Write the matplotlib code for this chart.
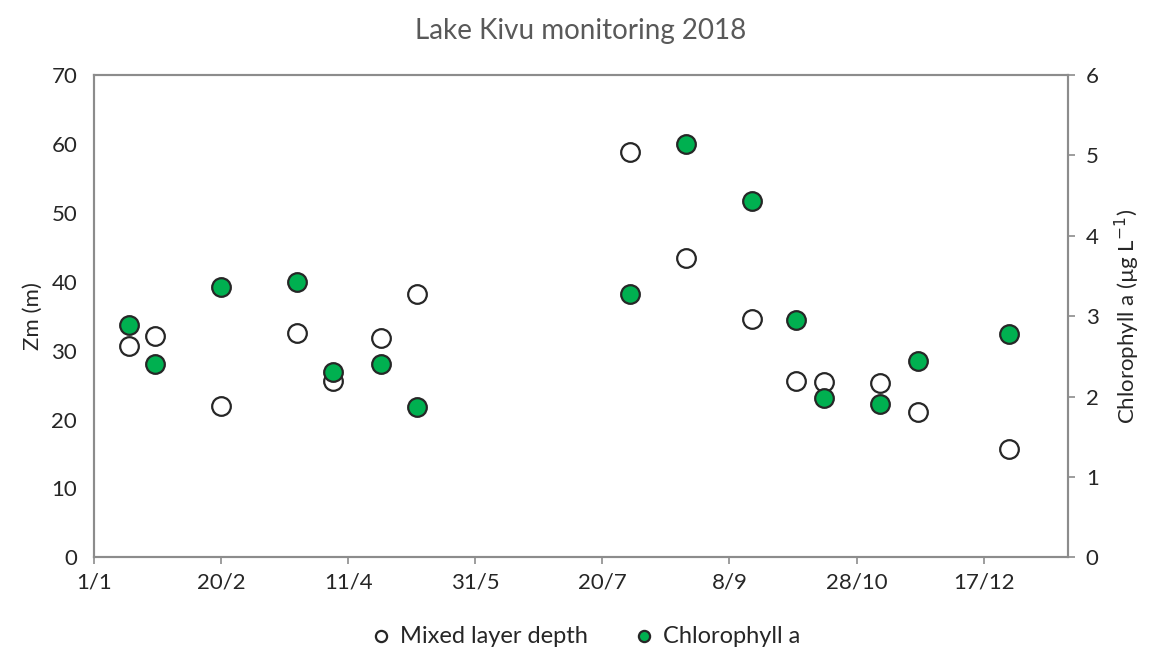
import matplotlib.pyplot as plt

# Fechas como dia del año (0 = 1/1/2018)
dias_zm = [14, 24, 50, 80, 94, 113, 127, 211, 233, 259, 276, 287, 309, 324, 360]
zm = [30.7, 32.1, 21.9, 32.5, 25.6, 31.9, 38.2, 58.8, 43.4, 34.6, 25.6, 25.4, 25.3, 21.1, 15.7]

dias_chl = [14, 24, 50, 80, 94, 113, 127, 211, 233, 259, 276, 287, 309, 324, 360]
chl = [2.89, 2.40, 3.36, 3.42, 2.30, 2.41, 1.87, 3.28, 5.14, 4.43, 2.95, 1.98, 1.91, 2.44, 2.78]

tick_dias = [0, 50, 100, 150, 200, 250, 300, 350]
tick_labels = ['1/1', '20/2', '11/4', '31/5', '20/7', '8/9', '28/10', '17/12']

gris = '#595959'
verde = '#00B050'
plt.rcParams['font.family'] = ['Lato', 'DejaVu Sans']

fig, ax = plt.subplots(figsize=(11.58, 6.58), dpi=100)
fig.subplots_adjust(left=0.081, right=0.922, top=0.886, bottom=0.153)
ax2 = ax.twinx()

ax.scatter(dias_zm, zm, s=180, facecolor='white', edgecolor='#262626', linewidth=1.6,
           zorder=3, label='Mixed layer depth')
ax2.scatter(dias_chl, chl, s=180, facecolor=verde, edgecolor='#262626', linewidth=1.6,
            zorder=3, label='Chlorophyll a')

ax.set_xlim(0, 383)
ax.set_ylim(0, 70)
ax2.set_ylim(0, 6)
ax.set_xticks(tick_dias)
ax.set_xticklabels(tick_labels)
ax.set_yticks(range(0, 71, 10))
ax2.set_yticks(range(0, 7))

for a in (ax, ax2):
    for s in a.spines.values():
        s.set_color('#8c8c8c')
        s.set_linewidth(1.5)
    a.tick_params(colors='#8c8c8c', labelcolor='#262626', labelsize=16, length=5, width=1.2)
ax.tick_params(axis='y', length=0, pad=12)
ax.tick_params(axis='x', pad=6)
ax2.tick_params(axis='y', pad=8)

ax.set_ylabel('Zm (m)', fontsize=16, color='#262626', labelpad=6)
ax2.set_ylabel('Chlorophyll a (µg L$^{-1}$)', fontsize=16, color='#262626', labelpad=10)
ax.set_title('Lake Kivu monitoring 2018', fontsize=20, color=gris, pad=26)

h1, l1 = ax.get_legend_handles_labels()
h2, l2 = ax2.get_legend_handles_labels()
fig.legend(h1 + h2, l1 + l2, loc='lower center', ncol=2, frameon=False, fontsize=17,
           handletextpad=-0.2, columnspacing=1.4, markerscale=0.6,
           bbox_to_anchor=(0.50, -0.015), labelcolor='#262626')

plt.savefig('out.png', dpi=100)
